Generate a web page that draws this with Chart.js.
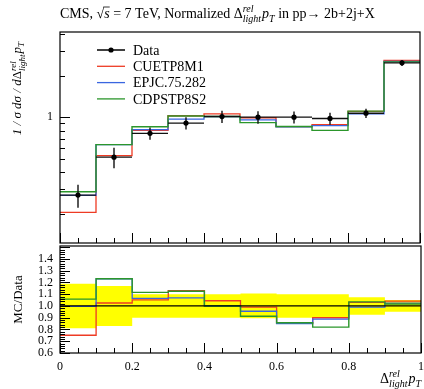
<!DOCTYPE html>
<html>
<head>
<meta charset="utf-8">
<script src="https://cdn.jsdelivr.net/npm/chart.js@4.4.0/dist/chart.umd.min.js"></script>
<style>
  html, body { margin: 0; padding: 0; background: #fff; }
  #wrap { position: relative; width: 424px; height: 389px; overflow: hidden; }
  canvas { position: absolute; left: 0; }
  #main { top: 0; }
  #ratio { top: 245px; }
</style>
</head>
<body>
<div id="wrap">
  <canvas id="main" width="424" height="247"></canvas>
  <canvas id="ratio" width="424" height="144"></canvas>
</div>
<script>
// bins of Delta^rel_light pT
const binEdges = [0, 0.1, 0.2, 0.3, 0.4, 0.5, 0.6, 0.7, 0.8, 0.9, 1.0];

// measured normalized cross section and relative uncertainty
const dataVals = [0.273, 0.514, 0.764, 0.906, 1.01, 1.0, 1.0, 0.979, 1.068, 2.47];
const dataErr  = [0.19, 0.17, 0.10, 0.10, 0.10, 0.105, 0.10, 0.10, 0.075, 0.05];

// generator tunes
const cuetp8m1  = [0.205, 0.527, 0.804, 1.024, 1.055, 0.99, 0.855, 0.881, 1.10, 2.57];
const epjc      = [0.272, 0.632, 0.813, 0.969, 1.01, 0.955, 0.85, 0.869, 1.057, 2.53];
const cdpstp8s2 = [0.289, 0.633, 0.852, 1.019, 1.01, 0.913, 0.857, 0.803, 1.105, 2.51];

const seriesNames  = ['CUETP8M1', 'EPJC.75.282', 'CDPSTP8S2'];
const seriesColors = ['#ee3b24', '#3a66e0', '#2b962b'];

const xTickLabels = ['0', '0.2', '0.4', '0.6', '0.8', '1'];
const mainYLabels = [1];
const ratioYLabels = ['0.6', '0.7', '0.8', '0.9', '1.0', '1.1', '1.2', '1.3', '1.4'];

const SERIF = '"Liberation Serif", "DejaVu Serif", serif';
const F = (sz, it) => (it ? 'italic ' : '') + sz + 'px ' + SERIF;

// histogram outline: two points per bin
function hist(vals) {
  const pts = [];
  vals.forEach((v, i) => {
    pts.push({ x: binEdges[i], y: v }, { x: binEdges[i + 1], y: v });
  });
  return pts;
}

// error crosses: full bin width horizontally, +-err vertically
function errorBars(vals, err) {
  const pts = [];
  vals.forEach((v, i) => {
    const lo = binEdges[i], hi = binEdges[i + 1], mid = (lo + hi) / 2;
    pts.push({ x: lo, y: v }, { x: hi, y: v }, { x: mid, y: null },
             { x: mid, y: v * (1 - err[i]) }, { x: mid, y: v * (1 + err[i]) }, { x: mid, y: null });
  });
  return pts;
}

function centers(vals) {
  return vals.map((v, i) => ({ x: (binEdges[i] + binEdges[i + 1]) / 2, y: v }));
}

// text with sub/superscripts
function drawRich(ctx, segs, x, y) {
  let cx = x;
  segs.forEach(s => {
    ctx.font = s.font;
    if (s.sup !== undefined) {
      const a = ctx.measureText(s.sup).width, b = ctx.measureText(s.sub).width;
      ctx.fillText(s.sup, cx, y + s.supDy);
      ctx.fillText(s.sub, cx, y + s.subDy);
      cx += Math.max(a, b) + 1;
    } else {
      const w = ctx.measureText(s.t).width;
      ctx.fillText(s.t, cx, y + (s.dy || 0));
      if (s.over) {
        ctx.beginPath();
        ctx.lineWidth = 0.8;
        ctx.moveTo(cx - 1, y - 11);
        ctx.lineTo(cx + w, y - 11);
        ctx.stroke();
      }
      cx += w;
    }
  });
  return cx - x;
}

function richWidth(ctx, segs) {
  let w = 0;
  segs.forEach(s => {
    ctx.font = s.font;
    if (s.sup !== undefined) w += Math.max(ctx.measureText(s.sup).width, ctx.measureText(s.sub).width) + 1;
    else w += ctx.measureText(s.t).width;
  });
  return w;
}

const deltaRel = (sz, small) => [
  { t: 'Δ', font: F(sz) },
  { sup: 'rel', sub: 'light', font: F(small, true), supDy: -sz * 0.42, subDy: sz * 0.28 },
  { t: 'p', font: F(sz, true) },
  { t: 'T', font: F(small, true), dy: sz * 0.25 }
];

const titleSegs = [
  { t: 'CMS, ', font: F(14) },
  { t: '√', font: F(14) },
  { t: 's', font: F(14, true), over: true },
  { t: ' = 7 TeV, Normalized ', font: F(14) },
  ...deltaRel(14, 10),
  { t: ' in pp→ 2b+2j+X', font: F(14) }
];

const mainYTitle = [
  { t: '1 / ', font: F(13, true) },
  { t: 'σ d', font: F(13, true) },
  { t: 'σ / d', font: F(13, true) },
  ...deltaRel(13, 9)
];

function frameAndXTicks(ctx, a, x) {
  ctx.strokeStyle = '#000';
  ctx.lineWidth = 1.2;
  ctx.strokeRect(a.left, a.top, a.right - a.left, a.bottom - a.top);
  ctx.beginPath();
  for (let k = 0; k <= 20; k++) {
    const px = Math.round(x.getPixelForValue(k * 0.05)) + 0.5;
    const len = k % 4 === 0 ? 10 : 5;
    ctx.moveTo(px, a.bottom);
    ctx.lineTo(px, a.bottom - len);
  }
  ctx.lineWidth = 1;
  ctx.stroke();
}

const mainDecor = {
  id: 'mainDecor',
  afterDraw(chart) {
    const { ctx, chartArea: a, scales: { x, y } } = chart;
    ctx.save();
    frameAndXTicks(ctx, a, x);

    // log y ticks
    const minor = [0.2, 0.3, 0.4, 0.5, 0.6, 0.7, 0.8, 0.9, 2, 3, 4];
    ctx.beginPath();
    minor.forEach(v => {
      const py = Math.round(y.getPixelForValue(v)) + 0.5;
      ctx.moveTo(a.left, py); ctx.lineTo(a.left + 5, py);
    });
    mainYLabels.forEach(v => {
      const py = Math.round(y.getPixelForValue(v)) + 0.5;
      ctx.moveTo(a.left, py); ctx.lineTo(a.left + 10, py);
    });
    ctx.stroke();

    ctx.fillStyle = '#000';
    ctx.font = F(12);
    ctx.textAlign = 'right';
    ctx.textBaseline = 'middle';
    mainYLabels.forEach(v => ctx.fillText(String(v), 53, y.getPixelForValue(v)));

    // title
    ctx.textAlign = 'left';
    ctx.textBaseline = 'alphabetic';
    drawRich(ctx, titleSegs, 60, 18);

    // y title, rotated
    ctx.save();
    const w = richWidth(ctx, mainYTitle);
    ctx.translate(21, 42 + w);
    ctx.rotate(-Math.PI / 2);
    drawRich(ctx, mainYTitle, 0, 0);
    ctx.restore();

    // legend
    const rows = ['Data', ...seriesNames];
    const cols = ['#000', ...seriesColors];
    rows.forEach((name, i) => {
      const ly = 50 + i * 16.3;
      ctx.strokeStyle = cols[i];
      ctx.lineWidth = i === 0 ? 1.5 : 1.3;
      ctx.beginPath();
      ctx.moveTo(97, ly); ctx.lineTo(125, ly);
      ctx.stroke();
      if (i === 0) {
        ctx.beginPath();
        ctx.arc(111, ly, 2.6, 0, Math.PI * 2);
        ctx.fillStyle = '#000';
        ctx.fill();
      }
      ctx.fillStyle = '#000';
      ctx.font = F(14);
      ctx.textBaseline = 'middle';
      ctx.fillText(name, 133, ly + 1);
    });
    ctx.restore();
  }
};

const ratioDecor = {
  id: 'ratioDecor',
  afterDraw(chart) {
    const { ctx, chartArea: a, scales: { x, y } } = chart;
    ctx.save();
    frameAndXTicks(ctx, a, x);

    // linear y ticks
    ctx.beginPath();
    for (let k = 30; k <= 75; k++) {
      const v = k * 0.02;
      const py = Math.round(y.getPixelForValue(v)) + 0.5;
      const len = k % 5 === 0 ? 10 : 5;
      ctx.moveTo(a.left, py); ctx.lineTo(a.left + len, py);
    }
    ctx.stroke();

    ctx.fillStyle = '#000';
    ctx.font = F(12);
    ctx.textAlign = 'right';
    ctx.textBaseline = 'middle';
    ratioYLabels.forEach(t => ctx.fillText(t, 53, y.getPixelForValue(parseFloat(t))));

    ctx.textAlign = 'center';
    xTickLabels.forEach(t => ctx.fillText(t, x.getPixelForValue(parseFloat(t)), a.bottom + 14));

    // axis titles
    ctx.textAlign = 'left';
    ctx.textBaseline = 'alphabetic';
    const xt = deltaRel(14, 10);
    const w = richWidth(ctx, xt);
    drawRich(ctx, xt, 421 - w, 138);

    ctx.save();
    ctx.font = F(13);
    const mw = ctx.measureText('MC/Data').width;
    ctx.translate(22, (a.top + a.bottom) / 2 + mw / 2);
    ctx.rotate(-Math.PI / 2);
    ctx.fillText('MC/Data', 0, 0);
    ctx.restore();
    ctx.restore();
  }
};

const lineDs = (data, color, width) => ({
  data, borderColor: color, borderWidth: width, pointRadius: 0, fill: false, tension: 0
});

const baseOptions = (padding, yScale) => ({
  responsive: false,
  animation: false,
  events: [],
  layout: { padding },
  plugins: { legend: { display: false }, tooltip: { enabled: false } },
  scales: {
    x: { type: 'linear', min: 0, max: 1, display: false },
    y: Object.assign({ display: false }, yScale)
  }
});

// main panel: distributions on a log scale
new Chart(document.getElementById('main'), {
  type: 'line',
  data: {
    datasets: [
      { data: centers(dataVals), showLine: false, pointRadius: 2.6, pointBorderWidth: 0, pointBackgroundColor: '#000' },
      lineDs(errorBars(dataVals, dataErr), '#111', 1.4),
      lineDs(hist(cdpstp8s2), seriesColors[2], 1.4),
      lineDs(hist(epjc), seriesColors[1], 1.3),
      lineDs(hist(cuetp8m1), seriesColors[0], 1.3)
    ]
  },
  options: baseOptions({ left: 60, right: 3, top: 32, bottom: 2 },
    { type: 'logarithmic', min: 0.123, max: 4.13 }),
  plugins: [mainDecor]
});

// ratio panel: MC / Data
const ratio = vals => vals.map((v, i) => v / dataVals[i]);
const band = sign => hist(dataErr.map(e => 1 + sign * e));

new Chart(document.getElementById('ratio'), {
  type: 'line',
  data: {
    datasets: [
      lineDs(hist(ratio(dataVals)), '#000', 1.3),
      lineDs(hist(ratio(cdpstp8s2)), seriesColors[2], 1.4),
      lineDs(hist(ratio(epjc)), seriesColors[1], 1.3),
      lineDs(hist(ratio(cuetp8m1)), seriesColors[0], 1.3),
      { data: band(1), borderWidth: 0, pointRadius: 0, fill: '+1', backgroundColor: '#ffff00' },
      { data: band(-1), borderWidth: 0, pointRadius: 0, fill: false }
    ]
  },
  options: baseOptions({ left: 60, right: 3, top: 1, bottom: 36 },
    { type: 'linear', min: 0.6, max: 1.51 }),
  plugins: [ratioDecor]
});
</script>
</body>
</html>
